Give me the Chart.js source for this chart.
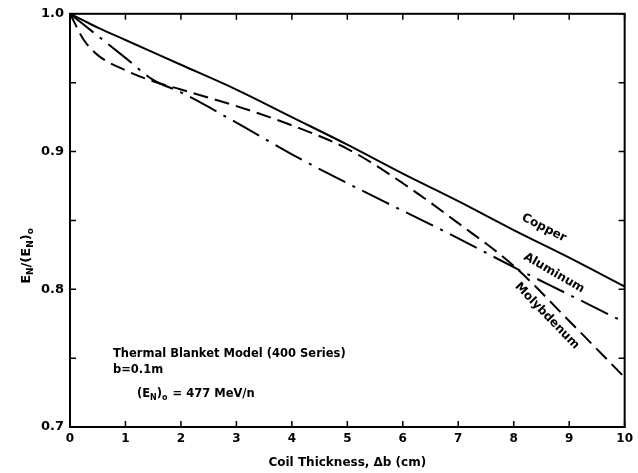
<!DOCTYPE html>
<html>
<head>
<meta charset="utf-8">
<script src="https://cdn.jsdelivr.net/npm/chart.js@4"></script>
<style>
  html, body { margin: 0; padding: 0; background: #fff; }
  #wrap { width: 638px; height: 473px; }
</style>
</head>
<body>
<div id="wrap"><canvas id="chart" width="638" height="473"></canvas></div>
<script>
// data
const thickness = [0, 0.25, 0.5, 1, 1.5, 2, 3, 4, 5, 6, 7, 8, 9, 10];
const copper     = [1.0, 0.995, 0.990, 0.981, 0.972, 0.963, 0.945, 0.925, 0.905, 0.884, 0.864, 0.843, 0.823, 0.802];
const aluminum   = [1.0, 0.992, 0.984, 0.968, 0.952, 0.943, 0.921, 0.898, 0.877, 0.857, 0.837, 0.816, 0.796, 0.776];
const molybdenum = [1.0, 0.981, 0.970, 0.959, 0.951, 0.945, 0.933, 0.919, 0.902, 0.877, 0.848, 0.817, 0.777, 0.736];
const xTicks = [0, 1, 2, 3, 4, 5, 6, 7, 8, 9, 10];
const yTicks = [0.7, 0.75, 0.8, 0.85, 0.9, 0.95, 1.0];

const FONT = "'DejaVu Sans', sans-serif";

function pts(ys) {
  return thickness.map((x, i) => ({ x: x, y: ys[i] }));
}

// frame, inward ticks, curve labels and notes
const decor = {
  id: "decor",
  beforeDraw(chart) {
    const c = chart.ctx;
    c.save();
    c.fillStyle = "#fff";
    c.fillRect(0, 0, chart.width, chart.height);
    c.restore();
  },
  afterDraw(chart) {
    const c = chart.ctx;
    const a = chart.chartArea;
    const xs = chart.scales.x;
    const ys = chart.scales.y;
    c.save();
    c.strokeStyle = "#000";
    c.lineWidth = 2;
    c.strokeRect(a.left, a.top, a.right - a.left, a.bottom - a.top);

    c.lineWidth = 1.5;
    c.beginPath();
    xTicks.forEach(v => {
      const px = xs.getPixelForValue(v);
      c.moveTo(px, a.bottom); c.lineTo(px, a.bottom - 6);
      c.moveTo(px, a.top); c.lineTo(px, a.top + 6);
    });
    yTicks.forEach(v => {
      const py = ys.getPixelForValue(v);
      c.moveTo(a.left, py); c.lineTo(a.left + 6, py);
      c.moveTo(a.right, py); c.lineTo(a.right - 6, py);
    });
    c.stroke();

    c.fillStyle = "#000";
    c.textAlign = "center";
    c.textBaseline = "middle";
    c.font = "bold 12px " + FONT;
    const lbl = (t, x, y, deg) => {
      c.save();
      c.translate(x, y);
      c.rotate(deg * Math.PI / 180);
      c.fillText(t, 0, 0);
      c.restore();
    };
    lbl("Copper", 544, 228, 27);
    lbl("Aluminum", 554, 273, 30);
    lbl("Molybdenum", 547, 316, 46);

    // notes block
    c.textAlign = "left";
    c.font = "bold 11.5px " + FONT;
    c.fillText("Thermal Blanket Model (400 Series)", 113, 354);
    c.fillText("b=0.1m", 113, 370);
    let x0 = 137;
    const y0 = 394;
    const sub = (t, x, y, big) => {
      c.font = (big ? "bold 11.5px " : "bold 8px ") + FONT;
      c.fillText(t, x, y);
      return x + c.measureText(t).width;
    };
    x0 = sub("(E", x0, y0, true);
    x0 = sub("N", x0, y0 + 4, false);
    x0 = sub(")", x0, y0, true);
    x0 = sub("o", x0, y0 + 4, false);
    sub(" = 477 MeV/n", x0 + 1, y0, true);

    // y title E_N/(E_N)_o
    c.save();
    c.translate(27, 256);
    c.rotate(-Math.PI / 2);
    const parts = [["E", 0], ["N", 4], ["/(E", 0], ["N", 4], [")", 0], ["o", 4]];
    let w = 0;
    parts.forEach(p => {
      c.font = (p[1] ? "bold 9px " : "bold 13px ") + FONT;
      w += c.measureText(p[0]).width;
    });
    let cx = -w / 2;
    parts.forEach(p => {
      c.font = (p[1] ? "bold 9px " : "bold 13px ") + FONT;
      c.fillText(p[0], cx, p[1]);
      cx += c.measureText(p[0]).width;
    });
    c.restore();
    c.restore();
  }
};

const line = (label, ys, dash) => ({
  label: label,
  data: pts(ys),
  borderColor: "#000",
  borderWidth: 2,
  borderDash: dash,
  pointRadius: 0,
  fill: false,
  cubicInterpolationMode: "monotone"
});

new Chart(document.getElementById("chart").getContext("2d"), {
  type: "line",
  data: {
    datasets: [
      line("Copper", copper, []),
      line("Aluminum", aluminum, [30, 8, 3, 8]),
      line("Molybdenum", molybdenum, [15, 7])
    ]
  },
  options: {
    responsive: false,
    animation: false,
    layout: { padding: { top: 13, right: 13, left: 0, bottom: 0 } },
    plugins: { legend: { display: false }, tooltip: { enabled: false } },
    scales: {
      x: {
        type: "linear",
        min: 0, max: 10,
        grid: { display: false, drawTicks: false },
        border: { display: false },
        ticks: {
          stepSize: 1, padding: 5, color: "#000",
          font: { family: FONT, size: 12, weight: "bold" }
        },
        title: {
          display: true, text: "Coil Thickness, \u0394b (cm)", color: "#000",
          padding: { top: 0, bottom: 3 },
          font: { family: FONT, size: 12, weight: "bold" }
        },
        afterFit(s) { s.height = 46; }
      },
      y: {
        min: 0.7, max: 1.0,
        grid: { display: false, drawTicks: false },
        border: { display: false },
        ticks: {
          stepSize: 0.1, padding: 6, color: "#000",
          font: { family: FONT, size: 13, weight: "bold" },
          callback: v => v.toFixed(1)
        },
        afterFit(s) { s.width = 70; }
      }
    }
  },
  plugins: [decor]
});
</script>
</body>
</html>
